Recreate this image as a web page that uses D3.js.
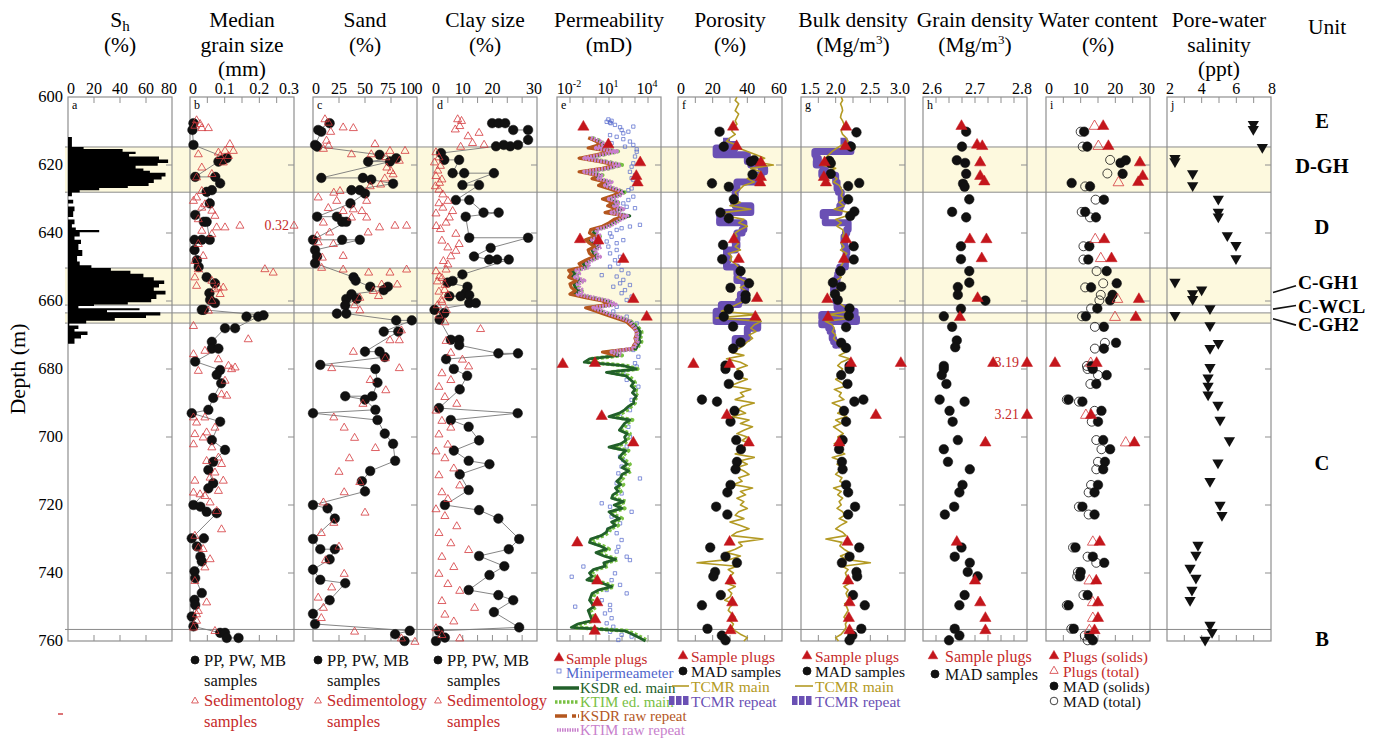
<!DOCTYPE html>
<html>
<head>
<meta charset="utf-8">
<script src="https://cdn.jsdelivr.net/npm/d3@7"></script>
<style>
  body { margin: 0; background: #fff; }
  svg { display: block; }
  svg text { font-family: "Liberation Serif", "DejaVu Serif", "Times New Roman", serif; }
</style>
</head>
<body>
<svg id="chart" width="1381" height="738" font-family="Liberation Serif, DejaVu Serif, serif"></svg>
<script>
// ---------------- depth frame ----------------
const depthTicks = [600, 620, 640, 660, 680, 700, 720, 740, 760];
const hydrateBands = [[614.7, 628.0], [650.3, 661.2], [663.5, 666.5]];
const unitBoundaries = [614.7, 628.0, 650.3, 661.2, 663.5, 666.5, 756.6];
const unitNames = ["E", "D-GH", "D", "C-GH1", "C-WCL", "C-GH2", "C", "B"];
const unitLabelDepths = [607.0, 620.4, 638.3, 654.5, 661.6, 666.8, 707.7, 759.5];

// ---------------- a: hydrate saturation (depth, %) ----------------
const shProfile = [[611.8,3],[614.7,12],[615.3,42],[616.1,52],[616.8,47],[617.5,70],[618.4,77],[619.4,69],[620.2,52],[621.0,58],[621.7,63],[622.3,75],[623.4,72],[624.3,66],[625.3,62],[626.2,46],[626.8,24],[627.4,9],[628.1,3],[629.2,0],[630.2,4],[631.3,0],[632.2,5],[633.6,4],[635.3,0],[636.0,5],[637.4,3],[638.4,6],[639.1,24],[639.8,9],[641.0,5],[642.0,10],[643.2,8],[645.0,11],[646.8,7],[648.4,9],[649.5,18],[650.3,33],[651.1,48],[652.0,58],[653.0,66],[654.0,74],[655.0,70],[656.0,66],[657.0,75],[658.1,68],[659.4,64],[660.4,46],[661.0,20],[661.5,8],[662.1,55],[662.7,30],[663.3,71],[664.3,60],[665.0,36],[665.8,14],[666.6,1],[667.2,8],[668.2,5],[669.0,15],[670.0,10],[671.0,5],[672.6,0]];

// ---------------- b: median grain size (depth, mm) ----------------
const grainLab = [[607.7,0.010],[609.7,0.007],[614.1,0.010],[618.0,0.106],[618.5,0.095],[619.0,0.082],[623.5,0.015],[623.5,0.073],[625.4,0.087],[627.4,0.063],[627.9,0.048],[631.3,0.057],[634.7,0.015],[636.7,0.040],[636.7,0.048],[642.0,0.057],[642.0,0.034],[642.0,0.013],[645.0,0.013],[648.0,0.020],[650.0,0.025],[653.0,0.048],[654.8,0.072],[657.7,0.056],[659.7,0.058],[660.6,0.072],[662.6,0.034],[662.6,0.040],[664.6,0.163],[664.6,0.197],[664.2,0.212],[668.0,0.130],[668.0,0.101],[672.0,0.063],[674.0,0.063],[674.0,0.082],[677.8,0.015],[680.3,0.087],[681.7,0.077],[684.2,0.090],[688.5,0.067],[692.0,0.053],[693.0,0.005],[695.5,0.087],[700.9,0.063],[703.8,0.101],[707.3,0.067],[709.7,0.053],[713.6,0.067],[715.1,0.053],[720.0,0.010],[720.5,0.030],[722.0,0.048],[722.4,0.077],[729.8,0.005],[729.8,0.040],[732.2,0.020],[735.2,0.030],[736.6,0.034],[739.5,0.013],[741.5,0.015],[745.9,0.034],[747.9,0.013],[749.4,0.015],[752.8,0.005],[755.7,0.010],[757.6,0.087],[757.6,0.101],[759.1,0.106],[759.1,0.140]];
const grainSed = [[606.6,0.019],[607.7,0.029],[608.9,0.053],[608.9,0.034],[608.2,0.014],[613.6,0.115],[615.6,0.125],[615.6,0.101],[616.1,0.082],[617.1,0.087],[617.1,0.111],[619.0,0.096],[616.6,0.024],[620.5,0.034],[623.4,0.019],[622.4,0.063],[627.4,0.034],[629.3,0.019],[630.3,0.010],[631.3,0.043],[632.3,0.034],[633.2,0.063],[634.7,0.072],[635.7,0.024],[638.1,0.077],[638.1,0.101],[637.6,0.144],[637.6,0.32],[639.1,0.034],[640.1,0.063],[643.0,0.024],[646.5,0.038],[648.0,0.014],[650.4,0.024],[650.4,0.216],[651.4,0.240],[652.8,0.014],[653.8,0.063],[655.8,0.082],[655.3,0.019],[656.3,0.072],[655.8,0.096],[657.7,0.087],[659.7,0.063],[662.6,0.053],[667.1,0.010],[671.0,0.168],[675.4,0.010],[674.4,0.043],[676.9,0.082],[680.3,0.024],[678.8,0.111],[679.8,0.120],[679.3,0.130],[683.2,0.101],[687.2,0.091],[687.6,0.106],[694.0,0.010],[695.5,0.019],[694.0,0.043],[697.0,0.072],[698.4,0.048],[698.9,0.014],[701.9,0.010],[699.9,0.038],[702.8,0.063],[705.8,0.082],[706.8,0.048],[710.2,0.072],[707.7,0.091],[711.7,0.058],[712.6,0.014],[716.1,0.010],[716.6,0.029],[717.1,0.043],[715.6,0.082],[712.6,0.096],[719.0,0.058],[721.5,0.077],[726.9,0.091],[728.8,0.014],[732.3,0.024],[732.7,0.038],[735.7,0.058],[738.1,0.043],[742.1,0.014],[748.4,0.048],[750.9,0.024],[751.9,0.019],[753.8,0.019],[756.8,0.072],[755.8,0.010]];

// ---------------- c: sand (depth, %) ----------------
const sandLab = [[607.7,16],[609.7,5],[610.2,8],[614.1,2],[614.6,4],[617.0,64],[619.0,53],[619.0,74],[618.0,80],[623.8,8],[623.8,48],[624.3,56],[625.5,77],[627.4,37],[627.4,45],[628.4,50],[631.3,36],[635.2,4],[635.2,23],[636.7,28],[636.7,32],[642.0,0],[642.0,28],[642.0,45],[645.0,2],[646.9,4],[648.9,2],[653.0,39],[654.0,41],[655.8,55],[655.8,72],[656.8,68],[659.4,32],[658.0,37],[659.4,42],[661.3,31],[663.7,23],[663.7,32],[665.7,80],[665.7,95],[669.0,68],[669.0,82],[674.9,50],[674.9,64],[676.5,69],[678.8,7],[680.0,60],[684.0,62],[688.0,57],[689.0,50],[688.0,31],[693.0,0],[692.0,60],[695.0,62],[699.0,69],[702.0,77],[707.0,79],[710.0,55],[713.0,47],[716.0,50],[720.0,0],[721.0,14],[724.0,21],[730.0,0],[733.0,7],[733.0,21],[736.0,16],[739.0,0],[742.0,7],[743.0,31],[748.0,16],[752.0,0],[755.0,2],[757.0,93],[758.0,79],[760.0,88]];
const sandSed = [[606.3,11.5],[607.3,14.7],[608.7,29],[608.9,38.8],[610.0,17],[612.6,13],[614.1,15],[615.0,10],[613.6,59.6],[616.6,56],[616.6,37],[615.6,74],[615.6,88.5],[617.5,70],[618.5,83],[620.5,71],[621.5,75],[622.5,77],[623.7,69],[626.0,55],[627.4,26],[627.9,20],[625.5,65],[630.3,22.8],[629.3,5],[632.4,14.7],[633.3,29],[632.8,38.8],[630.3,51.6],[633.3,47],[636.7,10],[635.2,37],[635.2,51.6],[638.1,64],[637.6,78.8],[637.6,90],[639.6,53],[640.6,4],[639.6,16],[643.0,19.6],[642.5,5],[646.5,29],[647.0,9],[650.0,8.3],[650.5,29],[651.4,53.5],[651.4,74],[650.5,90],[654.9,66],[654.9,81],[658.8,45],[656.8,58],[658.3,63],[661.0,40],[662.5,45],[668.4,85],[671.3,74],[671.3,83],[674.7,38.8],[676.6,69.5],[679.5,18],[679.5,83],[683.0,55],[686.0,70],[690.0,48],[694.0,20],[697.0,30],[700.0,40],[703.0,60],[706.0,35],[710.0,25],[713.0,45],[716.0,30],[719.0,10],[722.0,50],[725.0,20],[728.0,8],[732.0,25],[736.0,12],[740.0,30],[744.0,18],[747.0,5],[750.0,10],[753.0,8],[757.0,40],[759.0,85],[760.0,98]];

// ---------------- d: clay size (depth, %) ----------------
const clayLab = [[607.7,19.9],[607.7,22.1],[607.7,24.3],[609.7,27],[609.7,32],[612.6,32],[614.1,28.6],[614.5,26],[614.1,23.8],[614.5,21.2],[616.5,2.7],[618.5,3.8],[618.5,8.8],[622.4,6.6],[622.4,10.5],[622.4,20.5],[625.9,9.9],[625.9,15.5],[630.3,7.7],[630.3,12.2],[634.0,17],[634.0,22.1],[635.2,11],[641.4,12.2],[641.4,32],[644.4,19.4],[646.9,13.8],[647.8,18.9],[647.8,21.6],[647.8,25.5],[652.2,9.9],[654.1,6.6],[654.6,4.9],[655.8,11.6],[657.6,11],[658.3,12.2],[658.6,5.5],[658.6,9.3],[660.6,12.2],[660.6,14.4],[662.6,0.5],[663.6,3.8],[665.5,2.2],[671.4,6],[671.4,8.8],[673.0,8.8],[675.4,22],[675.4,28.6],[677.1,4.4],[680.0,7],[682.0,11.5],[686.0,9],[691.5,2],[693.0,28.5],[695.0,6],[697.0,12],[701.0,15.5],[704.0,7],[707.0,12],[708.0,19],[711.0,9],[715.6,12],[720.0,4],[721.5,15.5],[724.0,22],[730.0,29],[733.0,25.5],[735.0,15.5],[738.0,24],[740.6,19],[745.0,12],[746.5,22],[748.0,27],[751.5,20.5],[756.0,29],[757.0,2],[759.0,4],[760.0,1]];
const claySed = [[606.3,8.3],[606.8,9.6],[608.3,9],[609.3,7.5],[611.3,11.8],[610.3,15.5],[613.3,13.3],[613.8,17.2],[614.4,9.3],[617.5,2],[621.4,1.6],[625.0,2.2],[628.4,3.3],[630.3,5],[632.3,3.3],[633.3,6.6],[635.2,5.5],[636.7,4.4],[637.7,1.1],[638.6,2.5],[640.0,7.7],[643.0,8.8],[645.0,7.7],[646.6,6],[650.5,4.4],[652.5,2.2],[656.5,3.9],[659.4,2.8],[662.4,4.5],[668.0,16],[671.5,4.4],[675.0,6],[677.0,9.9],[679.0,12],[616.0,1],[619.0,0.5],[620.0,2.5],[623.0,1],[624.0,3],[626.0,0.8],[627.0,2],[631.0,2],[634.0,1],[642.0,3],[644.0,5],[648.0,3.5],[649.0,5],[651.0,1],[653.0,3],[654.0,1.5],[655.0,4],[657.0,2],[658.0,5],[660.0,3],[661.0,1.5],[664.0,2],[666.0,4],[681,3],[683,6],[685,2],[688,4],[690,8],[692,1],[695,3],[697,6],[699,2],[702,5],[704,1],[706,4],[709,7],[711,2],[714,9],[716,3],[718,5],[721,1],[723,4],[726,8],[728,2],[731,6],[733,12],[735,3],[738,7],[740,2],[743,5],[745,9],[748,3],[750,14],[752,4],[754,7],[756,1],[758,3],[759,9]];

// ---------------- e: permeability (depth, log10 mD) ----------------
const permPlugs = [[608.5,-0.97],[613.7,0.95],[619.0,3.4],[623.0,3.1],[624.9,3.2],[641.6,-1.23],[642.0,0.18],[647.4,2.1],[659.2,2.87],[664.4,3.9],[678.3,-2.56],[678.0,-0.08],[693.6,0.44],[701.4,2.87],[730.8,-1.44],[742.0,0.1],[748.4,0.1],[753.4,-0.05],[756.8,-0.1]];
const permMini = [[606.6,0.95],[607.0,1.2],[607.3,0.82],[607.5,1.08],[607.7,1.13],[608.2,1.46],[608.7,2.87],[608.9,1.85],[609.7,1.97],[610.2,2.49],[610.7,2.1],[611.2,1.08],[611.7,1.59],[612.4,2.1],[613.1,2.61],[613.6,1.2],[614.1,2.87],[614.6,2.23],[615.4,3.13],[616.1,3.13],[617.5,3.0],[619.5,2.87],[620.5,2.74],[622.0,2.61],[623.0,3.0],[623.9,2.74],[624.4,2.87],[625.4,3.13],[626.9,2.74],[627.4,2.49],[629.3,2.87],[630.3,2.49],[631.3,2.1],[632.3,2.36],[632.7,3.0],[633.7,1.59],[634.7,2.1],[635.7,1.85],[636.7,1.33],[637.6,3.38],[638.1,2.61],[638.6,1.97],[639.1,1.59],[640.1,1.08],[641.1,1.2],[642.1,2.1],[642.5,0.82],[643.0,1.59],[644.0,0.95],[645.0,1.59],[646.0,1.08],[647.0,1.85],[648.0,1.46],[649.0,1.72],[649.9,1.08],[650.9,1.97],[651.9,2.49],[652.4,0.44],[652.8,1.59],[653.8,2.1],[654.8,1.85],[655.3,2.61],[655.8,1.33],[656.8,2.23],[657.7,1.97],[658.7,2.74],[659.7,2.36],[660.7,1.08],[661.7,1.59],[663.1,1.33],[664.6,2.36],[666.6,3.13],[668.5,3.13],[670.5,3.26],[672.4,3.13],[674.4,2.87],[676.4,3.26],[678.3,3.0],[679.3,3.13],[681.3,2.1],[683.2,2.36],[685.2,3.26],[687.2,3.0],[689.1,2.74],[692.1,2.61],[694.0,1.85],[697.0,2.49],[699.9,2.61],[702.8,2.36],[705.8,1.85],[706.8,2.1],[708.7,1.97],[710.7,1.72],[712.2,3.38],[713.6,1.59],[716.6,1.97],[719.5,0.44],[720.5,1.08],[722.0,2.74],[723.4,1.2],[725.4,1.85],[727.3,0.95],[728.3,1.59],[730.3,1.97],[732.3,1.72],[733.7,1.59],[735.2,2.36],[736.2,2.61],[738.1,-0.97],[740.1,1.46],[741.1,-1.87],[742.1,1.2],[743.5,1.85],[745.0,0.82],[746.0,2.36],[748.0,0.44],[749.4,1.08],[749.9,-1.6],[750.9,1.08],[751.9,0.69],[753.3,1.2],[754.8,0.82],[755.8,1.33],[757.3,1.08],[758.2,1.97],[758.7,2.74],[759.7,1.72]];
const logTop = 612;        // first depth of the edited main logs, 1 m spacing
const ksdrMain = [-0.5,0.2,0.5,-0.3,1.5,0.3,-1.0,0.6,1.8,0.8,-1.0,0.3,0.0,1.0,0.5,1.3,2.1,1.6,0.8,1.6,1.2,1.9,1.0,2.6,1.7,1.3,0.8,-0.1,-0.2,0.2,-0.5,-0.2,0.2,-0.3,-0.2,0.1,-0.5,-1.0,-0.8,-1.9,-1.6,-1.9,-1.2,-1.7,-1.6,-1.3,-1.7,-0.5,0.8,1.3,-0.5,0.3,1.0,1.8,2.6,2.9,3.2,3.4,3.4,3.3,3.4,3.2,3.1,0.8,1.8,-0.5,-0.9,2.1,3.1,0.8,2.3,2.6,2.9,2.7,3.0,2.8,3.1,2.9,2.9,2.5,2.2,1.8,1.0,2.6,2.2,2.0,1.8,2.4,2.2,2.3,1.9,1.0,2.3,2.0,1.8,2.1,2.4,2.0,2.5,2.0,1.9,1.6,1.9,1.5,1.7,1.3,1.2,2.1,1.4,2.0,1.0,1.3,1.8,1.2,1.5,0.9,0.8,0.4,-0.4,-0.5,0.3,0.8,0.0,0.6,1.5,0.6,0.7,-0.2,-0.5,-0.3,-0.7,0.5,1.2,0.2,-0.3,-0.4,-0.5,-0.3,-0.2,-0.6,-0.5,-0.4,-0.3,-1.4,-1.9,2.2,2.8,3.3,3.8];
const ktimMain = [-0.3,0.4,0.6,-0.1,1.7,0.5,-0.8,0.8,2.0,1.0,-0.8,0.5,0.1,1.1,0.6,1.4,2.2,1.7,0.9,1.7,1.3,2.0,1.1,2.5,1.8,1.4,0.9,0.0,-0.1,0.3,-0.4,-0.1,0.3,-0.2,-0.1,0.2,-0.4,-0.8,-0.6,-1.6,-1.4,-1.7,-1.0,-1.5,-1.4,-1.1,-1.5,-0.3,0.9,1.4,-0.3,0.4,1.1,1.9,2.7,3.0,3.3,3.5,3.5,3.4,3.5,3.3,3.2,1.0,2.0,-0.3,-0.6,2.3,3.2,1.1,2.5,2.8,3.0,2.9,3.1,3.0,3.2,3.0,3.0,2.7,2.4,2.0,1.3,2.8,2.4,2.2,2.0,2.6,2.4,2.5,2.1,1.3,2.5,2.2,2.0,2.3,2.6,2.2,2.7,2.2,2.1,1.8,2.1,1.7,1.9,1.5,1.4,2.3,1.6,2.2,1.2,1.5,2.0,1.4,1.7,1.1,1.0,0.6,-0.2,-0.3,0.5,1.0,0.2,0.8,1.7,0.8,0.9,0.0,-0.3,-0.1,-0.5,0.7,1.4,0.4,-0.1,-0.2,-0.3,-0.1,0.0,-0.4,-0.3,-0.2,-0.1,-1.2,-1.7,2.4,3.0,3.5,4.0];
const ksdrRepeat = [-0.6,0.0,0.3,-0.6,1.2,0.0,-1.3,0.3,1.5,0.5,-1.3,0.0,-0.3,0.7,0.2,1.0,1.8,1.3,0.5,1.3,0.9,1.6,0.7,2.3,1.4,1.0,0.5,-0.4,-0.5,-0.1,-0.8,-0.5,-0.1,-0.6,-0.5,-0.2,-0.8,-1.3,-1.1,-2.1,-1.9,-2.1,-1.5,-2.0,-1.9,-1.6,-2.0,-0.8,0.5,1.0,-0.8,0.0,0.7,1.5,2.3,2.6,2.9,3.1,3.1,3.0,3.1,2.9,2.8,0.5,1.5];
const ktimRepeat = [-0.4,0.3,0.7,0.0,1.6,0.4,-0.9,0.7,1.9,0.9,-0.9,0.4,0.2,1.2,0.7,1.5,2.1,1.8,1.0,1.8,1.4,2.1,1.2,2.4,1.9,1.5,1.0,0.1,0.0,0.4,-0.3,0.0,0.4,-0.1,0.0,0.3,-0.3,-0.7,-0.5,-1.5,-1.3,-1.6,-0.9,-1.4,-1.3,-1.0,-1.4,-0.2,1.0,1.5,-0.2,0.5,1.2,2.0,2.6,2.8,3.0,3.1,3.2,3.1,3.2,3.0,2.9,1.2,2.0];

// ---------------- f: porosity (depth, %) ----------------
const porPlugs = [[608.5,31.8],[614.2,33.8],[619.0,47.8],[623.3,47.8],[624.9,47.4],[641.6,32.2],[647.4,35.0],[658.9,45.6],[664.4,44.6],[678.3,8.9],[678.3,29.8],[693.3,28.2],[701.4,40.8],[730.6,29.8],[742.0,30.3],[748.4,31.3],[753.0,31.3],[756.6,30.3]];
const porMad = [[610.2,24.0],[614.6,26.4],[618.6,43.9],[619.0,42.0],[622.8,43.0],[625.4,19.6],[626.4,29.3],[630.1,32.2],[634.0,24.5],[635.7,29.3],[643.5,26.0],[647.7,25.5],[651.2,36.1],[654.8,41.0],[656.1,30.3],[658.3,39.0],[659.4,39.0],[662.4,29.3],[664.6,26.4],[667.5,31.8],[672.2,36.1],[674.0,31.8],[679.0,27.4],[680.0,27.4],[681.8,35.0],[684.4,29.3],[689.0,13.8],[689.6,22.5],[692.3,32.6],[695.5,30.3],[700.9,33.6],[703.6,36.3],[707.3,34.0],[709.5,33.2],[714.1,30.3],[716.3,28.5],[720.5,22.0],[722.8,28.5],[732.5,18.6],[735.2,27.4],[737.0,34.0],[739.7,21.4],[741.0,20.4],[746.5,24.7],[749.5,13.8],[756.4,17.0],[758.4,25.3],[759.8,27.4]];
const tcmrTop = 600;       // TCMR main log, 1 m spacing
const porTcmrMain = [34,33,35,34,33,35,34,33,34,32,31,33,30,28,33,35,40,45,50,44,55,42,48,46,40,44,38,36,33,34,31,36,30,42,26,28,38,35,40,36,33,34,31,35,33,36,29,31,30,33,35,36,37,34,38,40,36,39,37,41,38,34,30,25,45,22,48,44,42,45,41,43,40,38,35,30,38,28,36,40,34,37,33,40,35,30,42,36,38,33,44,37,35,39,31,41,36,43,38,34,40,37,42,35,38,33,44,36,40,34,38,41,35,37,32,43,36,39,34,38,36,40,35,33,38,30,36,41,34,31,49,35,37,33,28,36,30,11,34,29,32,30,31,28,33,29,31,30,27,32,30,29,31,33,30,32,31,33,36,40,38];
const repeatTop = 612;     // TCMR repeat pass, 1 m spacing
const porTcmrRepeat = [28,28,33,22,22,40,40,42,48,50,48,44,44,34,34,33,33,33,32,33,42,42,24,25,24,38,38,37,34,34,33,34,33,28,28,29,28,28,34,34,35,34,38,38,39,38,36,36,35,25,25,22,22,22,46,46,40,40,40,33,33,33,33];

// ---------------- g: bulk density (depth, Mg/m3) ----------------
const bdPlugs = [[608.5,2.15],[614.2,2.14],[619.0,1.84],[623.3,1.83],[624.9,1.86],[641.6,2.15],[647.4,2.12],[659.2,1.88],[664.5,1.89],[678.0,2.22],[678.0,2.94],[693.3,2.58],[701.4,2.05],[730.6,2.17],[742.0,2.18],[748.4,2.2],[753.0,2.19],[756.6,2.2]];
const bdMad = [[610.4,2.30],[614.6,2.22],[618.8,1.91],[619.5,1.93],[622.6,1.93],[625.3,2.34],[626.2,2.18],[630.1,2.18],[633.7,2.27],[635.0,2.21],[643.9,2.26],[647.8,2.26],[651.2,2.07],[654.6,1.96],[655.8,2.08],[658.0,1.99],[659.7,2.03],[662.2,2.20],[664.4,2.19],[667.7,2.15],[672.3,2.08],[673.8,2.15],[679.1,2.20],[680.0,2.2],[681.8,2.08],[684.4,2.17],[689.0,2.4],[689.6,2.27],[692.3,2.12],[695.5,2.15],[700.9,2.1],[703.6,2.05],[707.3,2.09],[709.5,2.1],[714.1,2.15],[716.3,2.18],[720.5,2.28],[722.8,2.18],[732.5,2.34],[735.2,2.2],[737.0,2.09],[739.7,2.3],[741.0,2.31],[746.5,2.25],[749.5,2.42],[756.4,2.37],[758.4,2.24],[759.8,2.2]];
const bdTcmrMain = [2.08,2.1,2.07,2.09,2.1,2.08,2.07,2.1,2.12,2.1,2.08,2.1,2.15,2.18,2.1,2.02,1.95,1.9,1.85,1.95,1.8,2.0,1.9,1.95,2.02,1.97,2.05,2.08,2.1,2.08,2.12,2.05,2.12,1.98,2.2,2.15,2.0,2.08,2.02,2.1,2.12,2.1,2.14,2.08,2.12,2.07,2.16,2.12,2.13,2.1,2.07,2.05,2.03,2.08,2.0,1.98,2.05,2.0,2.03,1.98,2.02,2.08,2.15,2.2,1.9,2.25,1.85,1.95,1.98,1.95,2.0,1.97,2.02,2.05,2.08,2.15,2.05,2.2,2.08,2.03,2.1,2.06,2.12,2.0,2.08,2.15,1.98,2.08,2.05,2.12,1.95,2.06,2.1,2.03,2.16,2.0,2.08,1.97,2.04,2.11,2.03,2.07,1.98,2.1,2.05,2.13,1.95,2.08,2.02,2.1,2.05,2.0,2.09,2.06,2.15,1.97,2.08,2.03,2.1,2.05,2.08,2.02,2.1,2.13,2.05,2.16,2.07,2.0,2.1,2.15,1.86,2.09,2.06,2.12,2.2,2.07,2.15,2.5,2.1,2.18,2.14,2.16,2.14,2.2,2.12,2.18,2.15,2.17,2.22,2.13,2.16,2.18,2.15,2.12,2.17,2.14,2.15,2.12,2.08,2.0,2.04];
const bdTcmrRepeat = [2.12,2.12,2.2,2.22,1.7,1.72,1.75,1.72,1.85,1.82,1.8,2.0,2.0,2.02,2.02,2.04,2.08,2.08,2.1,2.08,2.06,2.05,1.82,1.85,1.85,2.18,2.18,2.16,2.14,2.12,2.12,2.13,2.14,2.16,2.15,2.15,2.14,2.14,2.06,2.04,2.03,2.02,1.98,1.97,1.97,1.99,2.0,2.0,2.02,2.02,2.2,2.28,1.8,2.3,1.8,1.9,1.92,1.95,1.95,1.97,2.0,2.02,2.02];

// ---------------- h: grain density (depth, Mg/m3) ----------------
const gdPlugs = [[608.3,2.674],[613.8,2.704],[614.2,2.714],[619.0,2.71],[623.0,2.71],[624.6,2.718],[641.6,2.69],[641.6,2.722],[647.2,2.713],[658.9,2.705],[664.5,2.671],[678.0,2.735],[678.0,3.19],[693.3,3.21],[701.4,2.72],[730.6,2.665],[742.0,2.70],[748.4,2.71],[753.0,2.72],[756.6,2.72]];
const gdMad = [[610.2,2.683],[614.6,2.675],[618.6,2.665],[619.4,2.681],[622.6,2.683],[625.5,2.677],[626.4,2.68],[630.1,2.689],[633.8,2.656],[635.4,2.683],[643.9,2.673],[647.7,2.673],[651.2,2.689],[654.6,2.689],[655.9,2.667],[658.2,2.667],[659.9,2.72],[662.3,2.673],[664.5,2.64],[667.6,2.656],[671.6,2.665],[673.6,2.662],[679.1,2.64],[680.0,2.64],[681.8,2.636],[684.4,2.645],[689.0,2.632],[689.6,2.68],[692.3,2.651],[695.5,2.657],[700.9,2.667],[703.6,2.64],[707.3,2.648],[709.5,2.69],[714.1,2.676],[716.3,2.67],[720.5,2.66],[722.8,2.642],[732.5,2.674],[735.2,2.661],[737.0,2.69],[739.7,2.686],[741.0,2.705],[746.5,2.68],[749.5,2.67],[756.4,2.661],[758.4,2.67],[759.8,2.65]];

// ---------------- i: water content (depth, %) ----------------
const wcPlugsSolids = [[608.3,16.5],[614.2,18.0],[619.0,27.1],[623.0,27.9],[624.8,26.6],[641.6,16.8],[647.2,18.9],[659.2,26.8],[664.5,25.9],[678.0,2.6],[678.0,14.6],[693.3,13.0],[701.4,25.5],[730.6,15.5],[742.0,14.5],[748.4,15.0],[753.0,15.0],[756.6,14.0]];
const wcPlugsTotal = [[608.3,14.0],[614.2,15.1],[624.9,20.9],[641.6,14.2],[647.2,15.8],[659.2,20.6],[664.5,19.9],[678.0,12.9],[693.3,11.5],[701.4,23.0],[730.6,13.5],[742.0,12.5],[748.4,13.5],[753.0,13.5],[756.6,12.5]];
const wcMadSolids = [[610.2,11.0],[614.6,11.9],[619.4,21.5],[618.6,23.0],[622.6,22.1],[625.3,7.4],[626.3,12.7],[630.2,16.7],[633.8,11.3],[635.4,14.4],[643.9,12.5],[647.8,12.2],[651.2,17.5],[654.8,20.4],[656.0,13.0],[658.2,19.2],[659.8,18.5],[662.2,14.8],[664.5,11.5],[667.6,16.7],[672.3,20.2],[674.0,16.7],[679.1,13.2],[680.0,13.5],[681.8,17.5],[684.4,14.5],[689.0,6.5],[689.6,10.5],[692.3,16.0],[695.5,15.0],[700.9,16.5],[703.6,18.5],[707.3,17.0],[709.5,16.5],[714.1,15.0],[716.3,14.0],[720.5,10.5],[722.8,14.0],[732.5,8.5],[735.2,13.5],[737.0,16.8],[739.7,10.0],[741.0,9.8],[746.5,12.0],[749.5,6.5],[756.4,8.0],[758.4,12.5],[759.8,13.5]];
const wcMadTotal = [[610.2,10.0],[614.6,10.6],[618.5,18.5],[622.5,17.7],[626.3,11.3],[630.2,14.3],[633.8,10.3],[635.4,12.7],[643.9,10.8],[647.8,10.8],[651.2,14.6],[654.8,16.5],[656.0,11.3],[658.2,15.8],[659.8,15.4],[662.2,13.0],[664.5,10.4],[667.6,14.1],[672.3,17.0],[674.0,14.1],[679.1,11.8],[680.0,12.0],[681.8,15.0],[684.4,12.8],[689.0,6.0],[689.6,9.5],[692.3,14.0],[695.5,13.2],[700.9,14.5],[703.6,16.0],[707.3,15.0],[709.5,14.5],[714.1,13.0],[716.3,12.3],[720.5,9.5],[722.8,12.3],[732.5,7.8],[735.2,12.0],[737.0,14.5],[739.7,9.2],[741.0,9.0],[746.5,10.8],[749.5,6.0],[756.4,7.3],[758.4,11.2],[759.8,12.0]];

// ---------------- j: pore-water salinity (depth, ppt) ----------------
const salinity = [[608.0,6.98],[609.5,6.98],[614.8,7.5],[618.0,2.46],[619.0,2.46],[622.5,3.48],[626.0,3.48],[630.0,4.96],[633.8,4.96],[635.2,4.96],[640.7,5.48],[643.6,5.98],[647.5,5.98],[654.4,2.46],[656.7,4.0],[657.8,3.48],[659.5,3.48],[662.2,4.48],[664.2,2.46],[667.2,4.48],[672.4,4.96],[673.9,4.48],[679.5,4.48],[682.6,4.37],[685.0,4.37],[687.6,4.37],[690.6,4.94],[695.0,5.06],[701.0,5.6],[707.6,4.94],[713.0,4.48],[720.0,5.06],[723.0,5.17],[731.8,3.79],[734.7,3.67],[738.5,3.33],[741.5,3.67],[745.0,3.44],[748.0,3.33],[755.3,4.48],[757.4,4.6],[759.7,4.2]];

// ---------------- drawing ----------------
const SERIF = '"Liberation Serif", "DejaVu Serif", "Times New Roman", serif';
const svg = d3.select("#chart").style("font-family", SERIF);
const y = d3.scaleLinear().domain([600, 760]).range([97, 641]);
const panelLeft = [68, 190, 313, 433, 557, 678, 801, 923, 1046, 1167];
const panelW = 104;
const plotTop = y(600), plotBottom = y(760);

const C = {
  red: "#c4161c", redText: "#c62a2a", redOpen: "#d4383c", frame: "#8f8f8f", band: "#fdf9de",
  blue: "#5166cc", dkGreen: "#22602a", ltGreen: "#78c043", brown: "#b4571e",
  pink: "#c880cc", olive: "#b39a24", purple: "#6a50b4", guide: "#8a8a8a"
};

const specs = [
  {key:"a", domain:[0,80], minor:[20,40,60], labels:[0,20,40,60,80]},
  {key:"b", domain:[0,0.3], minor:[0.05,0.1,0.15,0.2,0.25], labels:[0,0.1,0.2,0.3]},
  {key:"c", domain:[0,100], minor:[25,50,75], labels:[0,25,50,75,100]},
  {key:"d", domain:[0,35], minor:[5,10,15,20,25,30], labels:[0,10,20,30]},
  {key:"e", domain:[1e-3,1e5], log:true, minor:[1e-2,1e-1,1,10,100,1e3,1e4], labels:[1e-2,10,1e4]},
  {key:"f", domain:[0,60], minor:[10,20,30,40,50], labels:[0,20,40,60]},
  {key:"g", domain:[1.5,3.0], minor:[1.75,2.0,2.25,2.5,2.75], labels:[1.5,2.0,2.5,3.0]},
  {key:"h", domain:[2.6,2.8], minor:[2.625,2.65,2.675,2.7,2.725,2.75,2.775], labels:[2.6,2.7,2.8]},
  {key:"i", domain:[0,30], minor:[5,10,15,20,25], labels:[0,10,20,30]},
  {key:"j", domain:[2,8], minor:[3,4,5,6,7], labels:[2,4,6,8]}
];
const labelFormat = {
  b: d => d === 0 ? "0" : d3.format(".1f")(d),
  g: d3.format(".1f"), h: d3.format(".1f")
};
const xs = specs.map((s, i) =>
  (s.log ? d3.scaleLog() : d3.scaleLinear()).domain(s.domain).range([panelLeft[i], panelLeft[i] + panelW]));
const X = {}; specs.forEach((s, i) => X[s.key] = xs[i]);

const fullLeft = 65, fullRight = panelLeft[9] + panelW;

function txt(parent) {
  return parent.append("text").style("font-family", SERIF);
}

// hydrate-bearing intervals
svg.append("g").selectAll("rect").data(hydrateBands).join("rect")
  .attr("x", fullLeft).attr("width", fullRight - fullLeft)
  .attr("y", d => y(d[0])).attr("height", d => y(d[1]) - y(d[0]))
  .attr("fill", C.band);

// panel frames & ticks
const frames = svg.append("g");
specs.forEach((s, i) => {
  const L = panelLeft[i], R = L + panelW, x = xs[i];
  const g = frames.append("g");
  g.append("rect").attr("x", L).attr("y", plotTop).attr("width", panelW).attr("height", plotBottom - plotTop)
    .attr("fill", "none").attr("stroke", C.frame).attr("stroke-width", 1.2);
  g.selectAll(".tt").data(s.minor).join("line")
    .attr("x1", d => x(d)).attr("x2", d => x(d)).attr("y1", plotTop).attr("y2", plotTop + 6)
    .attr("stroke", C.frame).attr("stroke-width", 1);
  g.selectAll(".tb").data(s.minor).join("line")
    .attr("x1", d => x(d)).attr("x2", d => x(d)).attr("y1", plotBottom).attr("y2", plotBottom - 6)
    .attr("stroke", C.frame).attr("stroke-width", 1);
  g.selectAll(".dt").data(depthTicks.slice(1, -1)).join("line")
    .attr("x1", R).attr("x2", R - 6).attr("y1", d => y(d)).attr("y2", d => y(d))
    .attr("stroke", C.frame).attr("stroke-width", 1);
  txt(g).attr("x", L + 4).attr("y", plotTop + 12).attr("font-size", 12).text(s.key);

  // value labels above each panel
  s.labels.forEach((v, k) => {
    const t = txt(g).attr("y", 94).attr("font-size", 16);
    let anchor = "middle", px = x(v);
    if (k === 0) { anchor = "start"; px = L - 1; }
    else if (k === s.labels.length - 1) { anchor = "end"; px = R + 5; }
    else if (k === s.labels.length - 2 && s.key === "c") { px = x(v) - 3; }
    if (s.log) {
      anchor = "middle"; px = x(v) - 1;
      t.text("10").append("tspan").attr("font-size", 10).attr("dy", -7).text(String(Math.round(Math.log10(v))));
    } else {
      t.text((labelFormat[s.key] || String)(v));
    }
    t.attr("x", px).attr("text-anchor", anchor);
    if (s.key === "c" && v === 100) t.attr("letter-spacing", -0.5);
  });
});

// interval boundaries
svg.append("g").selectAll("line").data(unitBoundaries).join("line")
  .attr("x1", fullLeft).attr("x2", fullRight).attr("y1", d => y(d)).attr("y2", d => y(d))
  .attr("stroke", C.guide).attr("stroke-width", 1);

// depth axis
const dAx = svg.append("g");
depthTicks.forEach(d => txt(dAx).attr("font-size", 16.5).attr("x", 63).attr("y", y(d) + 5)
  .attr("text-anchor", "end").text(d));
txt(svg).attr("transform", `translate(25,${y(680)}) rotate(-90)`)
  .attr("text-anchor", "middle").attr("font-size", 22).text("Depth (m)");

// column titles
const titles = [
  [["S", ["h", "sub"]], ["(%)"]],
  [["Median"], ["grain size"], ["(mm)"]],
  [["Sand"], ["(%)"]],
  [["Clay size"], ["(%)"]],
  [["Permeability"], ["(mD)"]],
  [["Porosity"], ["(%)"]],
  [["Bulk density"], ["(Mg/m", ["3", "sup"], [")", "down"]]],
  [["Grain density"], ["(Mg/m", ["3", "sup"], [")", "down"]]],
  [["Water content"], ["(%)"]],
  [["Pore-water"], ["salinity"], ["(ppt)"]]
];
titles.forEach((lines, i) => {
  const cx = panelLeft[i] + panelW / 2;
  lines.forEach((parts, li) => {
    const t = txt(svg).attr("x", cx).attr("y", 27 + li * 24.5)
      .attr("text-anchor", "middle").attr("font-size", 21.5);
    parts.forEach(p => {
      if (typeof p === "string") t.append("tspan").text(p);
      else if (p[1] === "sub") t.append("tspan").attr("font-size", 15).attr("dy", 4).text(p[0]);
      else if (p[1] === "sup") t.append("tspan").attr("font-size", 13).attr("dy", -8).text(p[0]);
      else t.append("tspan").attr("dy", 8).text(p[0]);
    });
  });
});
txt(svg).attr("x", 1327).attr("y", 34).attr("text-anchor", "middle").attr("font-size", 21.5).text("Unit");

// unit names
const unitG = svg.append("g");
unitNames.forEach((n, k) => {
  const leader = (n === "C-GH1" || n === "C-WCL" || n === "C-GH2");
  txt(unitG).attr("font-size", leader ? 19.5 : 20.5).attr("font-weight", "bold")
    .attr("x", leader ? 1298 : 1322).attr("y", y(unitLabelDepths[k]) + 7)
    .attr("text-anchor", leader ? "start" : "middle").text(n);
});
const leaders = [[657.5, 655.5], [662.4, 661.3], [665.2, 667.1]];
svg.append("g").selectAll("line").data(leaders).join("line")
  .attr("x1", fullRight + 2).attr("x2", 1296).attr("y1", d => y(d[0])).attr("y2", d => y(d[1]))
  .attr("stroke", "#111").attr("stroke-width", 1.6);

// symbol helpers
const triUp = d3.symbol().type(d3.symbolTriangle);
function triangles(g, data, xScale, size, filled, color, clamp) {
  g.append("g").selectAll("path").data(data).join("path")
    .attr("d", triUp.size(size)())
    .attr("transform", d => {
      let xv = xScale(d[1]);
      if (clamp) xv = Math.min(xv, xScale.range()[1]);
      return `translate(${xv},${y(d[0]) + 1})`;
    })
    .attr("fill", filled ? color : "none").attr("stroke", color).attr("stroke-width", filled ? 0.5 : 0.8);
}
function circles(g, data, xScale, r, filled) {
  g.append("g").selectAll("circle").data(data).join("circle")
    .attr("cx", d => xScale(d[1])).attr("cy", d => y(d[0])).attr("r", r)
    .attr("fill", filled ? "#111" : "none").attr("stroke", "#111").attr("stroke-width", filled ? 0.5 : 0.8);
}
function connect(g, data, xScale) {
  const sorted = data.slice().sort((a, b) => a[0] - b[0]);
  g.append("path").attr("d", d3.line().x(d => xScale(d[1])).y(d => y(d[0]))(sorted))
    .attr("fill", "none").attr("stroke", "#777").attr("stroke-width", 0.9);
}
function profile(g, values, top, xScale, color, width, opts = {}) {
  const pts = values.map((v, k) => [top + k, opts.log ? Math.pow(10, v) : v]);
  g.append("path")
    .attr("d", d3.line().x(d => xScale(d[1])).y(d => y(d[0])).curve(opts.curve || d3.curveLinear)(pts))
    .attr("fill", "none").attr("stroke", color).attr("stroke-width", width)
    .attr("stroke-dasharray", opts.dash || null).attr("stroke-linejoin", "round");
}
const toK = arr => arr.map(d => [d[0], Math.pow(10, d[1])]);

// a: hydrate saturation profile
const gA = svg.append("g");
gA.append("path")
  .attr("d", d3.area().y(d => y(d[0])).x0(X.a(0)).x1(d => X.a(d[1])).curve(d3.curveStepBefore)(shProfile))
  .attr("fill", "#000");

// b, c, d: grain-size analyses
[["b", grainLab, grainSed], ["c", sandLab, sandSed], ["d", clayLab, claySed]].forEach(([k, lab, sed]) => {
  const g = svg.append("g");
  connect(g, lab, X[k]);
  circles(g, lab, X[k], 4.8, true);
  triangles(g, sed, X[k], 28, false, C.redOpen, true);
});
// off-scale coarse sample
const coarse = grainSed.filter(d => d[1] > 0.3);
coarse.forEach(d => txt(svg).attr("x", X.b.range()[1] - 5).attr("y", y(d[0]) + 5).attr("text-anchor", "end")
  .attr("font-size", 14).attr("fill", C.redText).text(d[1].toFixed(2)));

// e: permeability
const gE = svg.append("g");
gE.append("g").selectAll("path").data(toK(permMini)).join("path")
  .attr("d", d3.symbol().type(d3.symbolSquare).size(11)())
  .attr("transform", d => `translate(${X.e(d[1])},${y(d[0])})`)
  .attr("fill", "none").attr("stroke", C.blue).attr("stroke-width", 0.7);
profile(gE, ktimMain, logTop, X.e, C.ltGreen, 4, {log:true, dash:"3,2"});
profile(gE, ksdrMain, logTop, X.e, C.dkGreen, 2.8, {log:true});
profile(gE, ksdrRepeat, logTop, X.e, C.brown, 3.2, {log:true});
profile(gE, ktimRepeat, logTop, X.e, C.pink, 4.2, {log:true, dash:"2,1"});
triangles(gE, toK(permPlugs), X.e, 55, true, C.red);

// f: porosity
const gF = svg.append("g");
profile(gF, porTcmrRepeat, repeatTop, X.f, C.purple, 7, {curve: d3.curveStepBefore});
profile(gF, porTcmrMain, tcmrTop, X.f, C.olive, 1.6);
circles(gF, porMad, X.f, 4.8, true);
triangles(gF, porPlugs, X.f, 55, true, C.red);

// g: bulk density
const gG = svg.append("g");
profile(gG, bdTcmrRepeat, repeatTop, X.g, C.purple, 7, {curve: d3.curveStepBefore});
profile(gG, bdTcmrMain, tcmrTop, X.g, C.olive, 1.6);
circles(gG, bdMad, X.g, 4.8, true);
triangles(gG, bdPlugs, X.g, 55, true, C.red, true);

// h: grain density
const gH = svg.append("g");
circles(gH, gdMad, X.h, 4.8, true);
triangles(gH, gdPlugs, X.h, 55, true, C.red, true);
gdPlugs.filter(d => d[1] > 2.8).forEach(d => txt(gH).attr("x", X.h.range()[1] - 8).attr("y", y(d[0]) + 5)
  .attr("text-anchor", "end").attr("font-size", 14).attr("fill", C.redText).text(d[1].toFixed(2)));

// i: water content
const gI = svg.append("g");
circles(gI, wcMadTotal, X.i, 4.5, false);
circles(gI, wcMadSolids, X.i, 4.8, true);
triangles(gI, wcPlugsTotal, X.i, 50, false, C.redOpen);
triangles(gI, wcPlugsSolids, X.i, 55, true, C.red);

// j: pore-water salinity
const gJ = svg.append("g");
gJ.append("g").selectAll("path").data(salinity).join("path")
  .attr("d", triUp.size(55)())
  .attr("transform", d => `translate(${X.j(d[1])},${y(d[0])}) rotate(180)`)
  .attr("fill", "#111");

// ---------------- legends ----------------
const leg = svg.append("g");
function legText(x, yy, str, color, size) {
  txt(leg).attr("x", x).attr("y", yy).attr("font-size", size).attr("fill", color).text(str);
}
function legTri(x, yy, size, filled, color) {
  leg.append("path").attr("d", triUp.size(size)()).attr("transform", `translate(${x},${yy})`)
    .attr("fill", filled ? color : "none").attr("stroke", color).attr("stroke-width", filled ? 0.5 : 0.8);
}
function legDot(x, yy, r, filled) {
  leg.append("circle").attr("cx", x).attr("cy", yy).attr("r", r)
    .attr("fill", filled ? "#111" : "none").attr("stroke", "#111").attr("stroke-width", 0.8);
}
[1, 2, 3].forEach(i => {
  const L = panelLeft[i];
  legDot(L + 5, 660, 4, true);
  legText(L + 14, 666, "PP, PW, MB", "#111", 16.5);
  legText(L + 14, 686, "samples", "#111", 16.5);
  legTri(L + 5, 701, 20, false, C.redOpen);
  legText(L + 14, 706, "Sedimentology", C.redText, 16.5);
  legText(L + 14, 727, "samples", C.redText, 16.5);
});
// permeability legend
legTri(559, 658, 40, true, C.red); legText(566, 664, "Sample plugs", C.redText, 15);
leg.append("rect").attr("x", 557).attr("y", 669).attr("width", 4).attr("height", 4).attr("fill", "none").attr("stroke", C.blue).attr("stroke-width", 0.7);
legText(566, 678, "Minipermeameter", C.blue, 15);
leg.append("line").attr("x1", 553).attr("x2", 579).attr("y1", 688).attr("y2", 688).attr("stroke", C.dkGreen).attr("stroke-width", 3.5);
legText(580, 693, "KSDR ed. main", C.dkGreen, 15);
leg.append("line").attr("x1", 555).attr("x2", 579).attr("y1", 702).attr("y2", 702).attr("stroke", C.ltGreen).attr("stroke-width", 3.5).attr("stroke-dasharray", "2.5,1.5");
legText(580, 707, "KTIM ed. main", C.ltGreen, 15);
leg.append("line").attr("x1", 555).attr("x2", 579).attr("y1", 716).attr("y2", 716).attr("stroke", C.brown).attr("stroke-width", 3.5).attr("stroke-dasharray", "12,5,4,2");
legText(580, 721, "KSDR raw repeat", C.brown, 15);
leg.append("line").attr("x1", 557).attr("x2", 579).attr("y1", 730).attr("y2", 730).attr("stroke", C.pink).attr("stroke-width", 3.5).attr("stroke-dasharray", "1.5,1");
legText(580, 735, "KTIM raw repeat", C.pink, 15);
// porosity & bulk density legends
[[678, 683, 691], [801, 807, 815]].forEach(([L, sx, tx]) => {
  legTri(sx, 656, 40, true, C.red); legText(tx, 662, "Sample plugs", C.redText, 15.5);
  legDot(sx, 671, 4, true); legText(tx, 676.5, "MAD samples", "#111", 15.5);
  leg.append("line").attr("x1", L - 6).attr("x2", tx - 2).attr("y1", 686).attr("y2", 686).attr("stroke", C.olive).attr("stroke-width", 1.6);
  legText(tx, 691.5, "TCMR main", C.olive, 15.5);
  [0, 1, 2].forEach(q => leg.append("rect").attr("x", L - 9 + q * 7).attr("y", 696).attr("width", 5.5).attr("height", 9).attr("fill", C.purple));
  legText(tx, 706.5, "TCMR repeat", C.purple, 15.5);
});
// grain density legend
legTri(933, 656, 40, true, C.red); legText(945, 662, "Sample plugs", C.redText, 16);
legDot(935, 674, 4, true); legText(945, 680, "MAD samples", "#111", 16);
// water content legend
legTri(1054, 656, 40, true, C.red); legText(1063, 662, "Plugs (solids)", C.redText, 15.5);
legTri(1054, 671, 30, false, C.redOpen); legText(1063, 677, "Plugs (total)", C.redText, 15.5);
legDot(1054, 686, 4, true); legText(1063, 692, "MAD (solids)", "#111", 15.5);
legDot(1054, 701, 3.8, false); legText(1063, 707, "MAD (total)", "#111", 15.5);

// stray mark at lower left
leg.append("line").attr("x1", 58).attr("x2", 63).attr("y1", 714).attr("y2", 714).attr("stroke", C.red).attr("stroke-width", 1.2);
</script>
</body>
</html>
